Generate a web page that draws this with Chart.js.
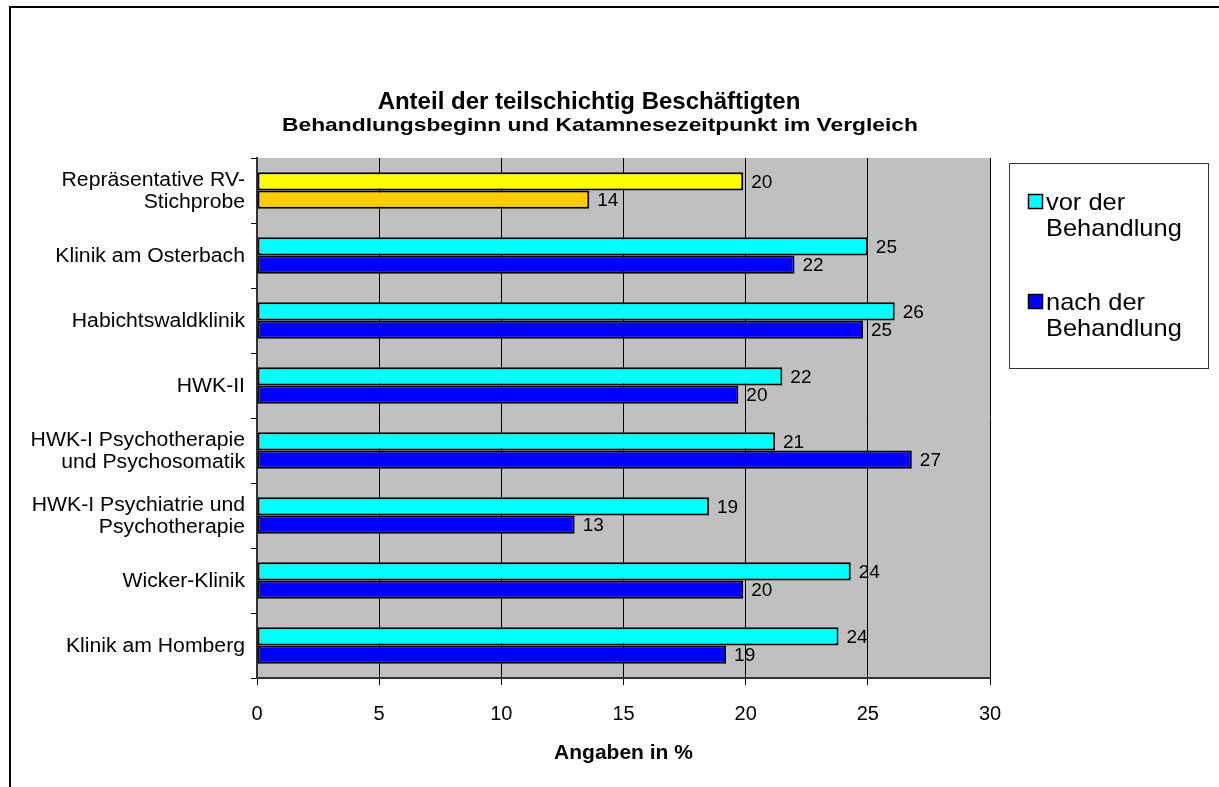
<!DOCTYPE html>
<html lang="de">
<head>
<meta charset="UTF-8">
<title>Anteil der teilschichtig Beschäftigten</title>
<script src="https://cdn.jsdelivr.net/npm/chart.js"></script>
<style>
  html, body { margin: 0; padding: 0; background: #fff; }
  canvas { display: block; }
</style>
</head>
<body>
<canvas id="myChart" width="1219" height="787"></canvas>

<script>
// Kategorien (von oben nach unten)
const kategorien = [
  ["Repräsentative RV-", "Stichprobe"],
  "Klinik am Osterbach",
  "Habichtswaldklinik",
  "HWK-II",
  ["HWK-I Psychotherapie", "und Psychosomatik"],
  ["HWK-I Psychiatrie und", "Psychotherapie"],
  "Wicker-Klinik",
  "Klinik am Homberg"
];
// Anteile in %
const vorBehandlung  = [19.9, 25.0, 26.1, 21.5, 21.2, 18.5, 24.3, 23.8];
const nachBehandlung = [13.6, 22.0, 24.8, 19.7, 26.8, 13.0, 19.9, 19.2];
const serienNamen = [["vor der", "Behandlung"], ["nach der", "Behandlung"]];
const xTicks = [0, 5, 10, 15, 20, 25, 30];

const titel = "Anteil der teilschichtig Beschäftigten";
const untertitel = "Behandlungsbeginn und Katamnesezeitpunkt im Vergleich";
const achsenTitel = "Angaben in %";

const farbeVor = kategorien.map((k, i) => i === 0 ? "#FFFF00" : "#00FFFF");
const farbeNach = kategorien.map((k, i) => i === 0 ? "#FFCC00" : "#0000FF");

const FONT = "Arial, 'Liberation Sans', sans-serif";

function text(ctx, t, x, y, align, streck) {
  ctx.save();
  ctx.translate(x, y);
  ctx.scale(streck || 1, 1);
  ctx.textAlign = align;
  ctx.fillText(t, 0, 0);
  ctx.restore();
}

// Hintergrund, Rahmen, Titel, Beschriftungen und Legende
const excelStil = {
  id: "excelStil",
  beforeDraw(chart) {
    const { ctx, chartArea: a } = chart;
    ctx.save();
    ctx.fillStyle = "#fff";
    ctx.fillRect(0, 0, chart.width, chart.height);
    ctx.fillStyle = "#C0C0C0";
    ctx.fillRect(a.left, a.top, a.right - a.left, a.bottom - a.top);
    ctx.restore();
  },
  afterDraw(chart) {
    const { ctx, chartArea: a } = chart;
    ctx.save();
    // äußerer Rahmen
    ctx.strokeStyle = "#000";
    ctx.lineWidth = 2;
    ctx.strokeRect(10, 7, chart.width + 20, chart.height + 20);

    ctx.fillStyle = "#000";
    ctx.textBaseline = "middle";

    // Titel
    ctx.font = "bold 24px " + FONT;
    text(ctx, titel, 589, 102, "center");
    ctx.font = "bold 19px " + FONT;
    text(ctx, untertitel, 600, 126, "center", 1.2);

    // Achsentitel
    ctx.font = "bold 20px " + FONT;
    text(ctx, achsenTitel, (a.left + a.right) / 2, 753, "center", 1.05);

    // Kategorienbeschriftung
    const yAchse = chart.scales.y;
    ctx.font = "20px " + FONT;
    kategorien.forEach((k, i) => {
      const zeilen = Array.isArray(k) ? k : [k];
      const yc = yAchse.getPixelForValue(i) + 1;
      zeilen.forEach((z, j) => {
        text(ctx, z, 245, yc + (j - (zeilen.length - 1) / 2) * 22, "right", 1.06);
      });
    });

    // Datenbeschriftung
    ctx.font = "19px " + FONT;
    chart.data.datasets.forEach((ds, di) => {
      chart.getDatasetMeta(di).data.forEach((bar, i) => {
        text(ctx, String(Math.round(ds.data[i])), bar.x + 8, bar.y + 1, "left");
      });
    });

    // Legende
    ctx.lineWidth = 1;
    ctx.strokeStyle = "#333";
    ctx.strokeRect(1009.5, 163.5, 199, 205);
    const legY = [202, 302];
    const legFarben = ["#00FFFF", "#0000FF"];
    ctx.font = "24px " + FONT;
    serienNamen.forEach((zeilen, j) => {
      ctx.fillStyle = legFarben[j];
      ctx.fillRect(1028, legY[j] - 8, 15, 15);
      ctx.strokeStyle = "#000";
      ctx.lineWidth = 1.5;
      ctx.strokeRect(1028.5, legY[j] - 7.5, 14, 14);
      ctx.fillStyle = "#000";
      zeilen.forEach((z, k) => text(ctx, z, 1046, legY[j] + 1 + k * 26, "left", 1.06));
    });
    ctx.restore();
  }
};

const ctx = document.getElementById("myChart").getContext("2d");
const chart = new Chart(ctx, {
  type: "bar",
  data: {
    labels: kategorien,
    datasets: [
      {
        label: serienNamen[0].join(" "),
        data: vorBehandlung,
        backgroundColor: farbeVor,
        borderColor: "#000",
        borderWidth: 2,
        borderSkipped: false,
        categoryPercentage: 0.56,
        barPercentage: 1.0
      },
      {
        label: serienNamen[1].join(" "),
        data: nachBehandlung,
        backgroundColor: farbeNach,
        borderColor: "#000",
        borderWidth: 2,
        borderSkipped: false,
        categoryPercentage: 0.56,
        barPercentage: 1.0
      }
    ]
  },
  options: {
    indexAxis: "y",
    responsive: false,
    animation: false,
    layout: { padding: { left: 0, top: 158, right: 229, bottom: 0 } },
    plugins: {
      legend: { display: false },
      title: { display: false },
      tooltip: { enabled: false }
    },
    scales: {
      x: {
        min: 0,
        max: 30,
        afterFit: s => { s.height = 109; },
        afterBuildTicks: s => { s.ticks = xTicks.map(v => ({ value: v })); },
        grid: { color: "#000", lineWidth: 1, tickLength: 7, drawTicks: true },
        border: { color: "#333", width: 2 },
        ticks: { color: "#000", font: { family: FONT, size: 20 }, padding: 17 }
      },
      y: {
        afterFit: s => { s.width = 257; },
        grid: { drawOnChartArea: false, color: "#000", tickLength: 6, offset: true },
        border: { color: "#333", width: 2 },
        ticks: { display: false }
      }
    }
  },
  plugins: [excelStil]
});
</script>
</body>
</html>
